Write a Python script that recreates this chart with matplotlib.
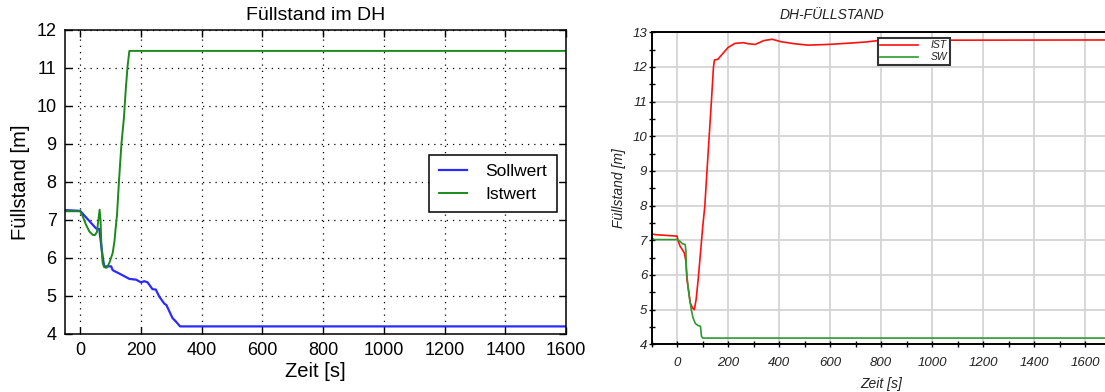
import matplotlib
matplotlib.use("Agg")
import matplotlib.pyplot as plt
from matplotlib.ticker import MultipleLocator

plt.rcParams['font.family'] = ['Liberation Sans', 'DejaVu Sans']

# ---- left panel: simulation (Sollwert / Istwert) ----
t_soll = [-50, 0, 52, 63, 66, 74, 79, 96, 102, 107, 129, 162, 184, 200, 211,
          222, 238, 249, 260, 277, 284, 304, 315, 329, 1600]
sollwert = [7.26, 7.24, 6.78, 6.76, 6.55, 6.04, 5.78, 5.78, 5.78, 5.68, 5.59,
            5.45, 5.43, 5.36, 5.39, 5.36, 5.18, 5.17, 4.99, 4.80, 4.76, 4.42,
            4.33, 4.20, 4.20]

t_ist = [-50, 0, 8, 19, 30, 41, 48, 55, 60, 64, 67, 70, 74, 79, 87, 96, 107,
         113, 117, 121, 128, 136, 144, 150, 156, 162, 1600]
istwert = [7.23, 7.23, 7.10, 6.88, 6.70, 6.61, 6.60, 6.68, 7.00, 7.27, 7.00,
           6.30, 5.87, 5.76, 5.74, 5.87, 6.13, 6.45, 6.80, 7.10, 8.05, 9.02,
           9.68, 10.42, 11.04, 11.45, 11.45]

left_title = "Füllstand im DH"
left_xlabel = "Zeit [s]"
left_ylabel = "Füllstand [m]"
left_labels = ["Sollwert", "Istwert"]

# ---- right panel: plant recording (IST / SW) ----
t_ist_r = [-100, -80, 0, 5, 12, 21, 29, 35, 39, 45, 52, 61, 68, 75, 83, 92,
           101, 109, 117, 127, 136, 143, 147, 160, 180, 200, 227, 260, 280,
           307, 340, 373, 407, 460, 513, 593, 660, 740, 800, 1800]
ist_r = [7.18, 7.16, 7.12, 6.97, 6.83, 6.73, 6.63, 6.39, 5.87, 5.58, 5.19,
         5.05, 5.00, 5.29, 5.87, 6.63, 7.40, 7.98, 8.93, 10.09, 11.14, 12.00,
         12.20, 12.22, 12.39, 12.56, 12.68, 12.70, 12.67, 12.65, 12.76, 12.80,
         12.73, 12.67, 12.63, 12.65, 12.68, 12.72, 12.77, 12.78]

t_sw_r = [-100, -95, -90, 0, 12, 21, 32, 35, 37, 43, 48, 56, 63, 72, 83, 92,
          96, 101, 1800]
sw_r = [7.05, 7.05, 7.02, 7.02, 6.97, 6.90, 6.88, 6.68, 6.15, 5.67, 5.38,
        5.00, 4.76, 4.60, 4.54, 4.52, 4.23, 4.18, 4.18]

right_title = "DH-FÜLLSTAND"
right_xlabel = "Zeit [s]"
right_ylabel = "Füllstand [m]"
right_labels = ["IST", "SW"]

W, H = 1105, 392
fig = plt.figure(figsize=(W / 100, H / 100), dpi=100)

# left axes
axL = fig.add_axes([65 / W, (H - 334) / H, (566 - 65) / W, (334 - 30) / H])
axL.plot(t_soll, sollwert, color="#2a2aff", lw=1.6, label=left_labels[0])
axL.plot(t_ist, istwert, color="#1a8a1a", lw=1.4, label=left_labels[1])
axL.set_xlim(-50, 1600)
axL.set_ylim(4, 12)
axL.xaxis.set_major_locator(MultipleLocator(200))
axL.yaxis.set_major_locator(MultipleLocator(1))
axL.grid(True, linestyle=(0, (1, 4)), color="black", lw=0.9)
axL.tick_params(direction="in", top=True, right=True, length=5, width=1,
                labelsize=13, pad=6)
for s in axL.spines.values():
    s.set_linewidth(1.1)
axL.set_title(left_title, fontsize=14, pad=7)
axL.set_xlabel(left_xlabel, fontsize=14.5, labelpad=2)
axL.set_ylabel(left_ylabel, fontsize=14.5, labelpad=5)
legL = axL.legend(loc="upper right", bbox_to_anchor=(0.982, 0.59),
                  fontsize=12.5, frameon=True, fancybox=False, framealpha=1,
                  edgecolor="black", handlelength=1.6, handletextpad=1.1,
                  borderpad=0.55, labelspacing=0.45, borderaxespad=0)
legL.get_frame().set_linewidth(1.1)

# right axes
txt = "#222222"
axR = fig.add_axes([651.5 / W, (H - 344.3) / H, 459 / W, 312 / H])
axR.plot(t_ist_r, ist_r, color="#ff1010", lw=1.2, label=right_labels[0])
axR.plot(t_sw_r, sw_r, color="#2e9a2e", lw=1.2, label=right_labels[1])
axR.set_xlim(-100, 1700)
axR.set_ylim(4, 13)
axR.xaxis.set_major_locator(MultipleLocator(200))
axR.xaxis.set_minor_locator(MultipleLocator(100))
axR.yaxis.set_major_locator(MultipleLocator(1))
axR.yaxis.set_minor_locator(MultipleLocator(0.5))
axR.grid(True, which="major", color="#d4d4d4", lw=1.3)
axR.set_axisbelow(True)
axR.tick_params(which="both", direction="inout", length=4, width=1,
                colors="black", labelcolor=txt, labelsize=9.5)
axR.tick_params(axis="x", which="major", pad=7)
axR.tick_params(axis="y", which="major", pad=1)
for lab in axR.get_xticklabels() + axR.get_yticklabels():
    lab.set_style("italic")
for s in axR.spines.values():
    s.set_linewidth(1.4)
axR.set_xlabel(right_xlabel, fontsize=10, style="italic", color=txt, labelpad=6)
axR.set_ylabel(right_ylabel, fontsize=10, style="italic", color=txt, labelpad=5)
fig.text(832 / W, 1 - 15 / H, right_title, fontsize=10, style="italic",
         color=txt, ha="center", va="center")
legR = axR.legend(loc="upper left", bbox_to_anchor=(0.493, 0.983),
                  fontsize=7.5, frameon=True, fancybox=False, framealpha=1,
                  edgecolor="#333333", handlelength=3.6, handletextpad=1.2,
                  borderpad=0.25, labelspacing=0.2, borderaxespad=0)
legR.get_frame().set_linewidth(1.5)
for t in legR.get_texts():
    t.set_style("italic")
    t.set_color(txt)

fig.savefig("out.png", dpi=100)
